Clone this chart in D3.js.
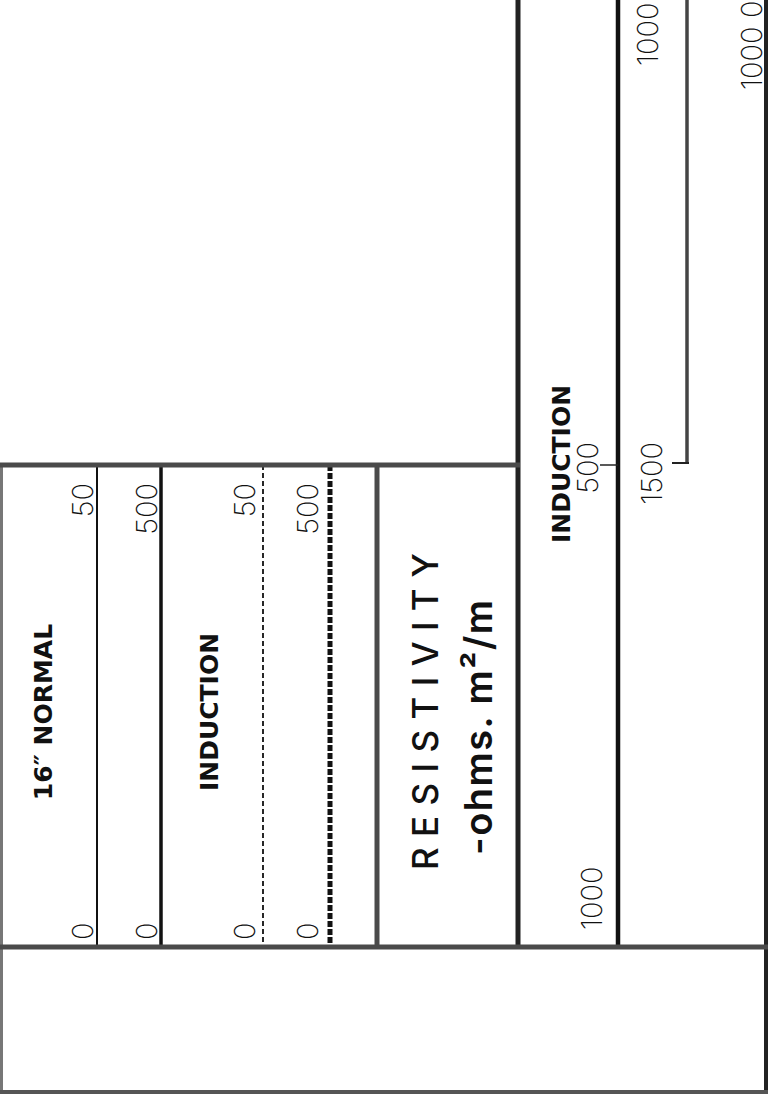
<!DOCTYPE html>
<html>
<head>
<meta charset="utf-8">
<script src="https://cdn.jsdelivr.net/npm/d3@7"></script>
<style>
  body { margin: 0; background: #fff; }
  .digit { font-family: "Inter", "DejaVu Sans", sans-serif; font-weight: 200; font-size: 29px; fill: #111; }
  .curve { font-family: "DejaVu Sans", sans-serif; font-weight: bold; font-size: 25px; fill: #111; }
</style>
</head>
<body>
<div id="log-header"></div>
<script>
// Log heading data
const curveNames = ["16″ NORMAL", "INDUCTION"];
const shallowLeft = ["0", "0", "0", "0"];
const shallowRight = ["50", "500", "50", "500"];
const deepCurve = "INDUCTION";
const deepLeft = ["1000", "1000", "0"];
const deepRight = ["500", "1500"];
const unitTitle = "RESISTIVITY";
const unitText = "-ohms. m²/m";

const W = 771, H = 1094;

// layout of the heading (pixels)
const yTop = 465, yMid = 947, yBottom = 1092;
const shallowLines = [97, 161, 263, 330];             // curve scale lines in the left track
const lineStyle = [
  { w: 2,   dash: null },
  { w: 3.5, dash: null },
  { w: 1.8, dash: "5,3" },
  { w: 5,   dash: "6,2" }
];

const svg = d3.select("#log-header")
  .append("svg")
  .attr("width", W)
  .attr("height", H);

const y = d3.scaleLinear().domain([0, H]).range([0, H]);

// rotated text helper (reads bottom to top)
function rtext(x, yy, str, anchor, cls) {
  return svg.append("text")
    .attr("class", cls)
    .attr("transform", "translate(" + x + "," + y(yy) + ") rotate(-90)")
    .attr("text-anchor", anchor)
    .text(str);
}

function rule(x1, y1, x2, y2, w, color, dash) {
  const l = svg.append("line")
    .attr("x1", x1).attr("y1", y(y1))
    .attr("x2", x2).attr("y2", y(y2))
    .attr("stroke", color)
    .attr("stroke-width", w);
  if (dash) l.attr("stroke-dasharray", dash);
  return l;
}

// curve scale lines, left track
shallowLines.forEach((x, i) => {
  rule(x, yTop, x, yMid, lineStyle[i].w, "#111", lineStyle[i].dash);
});

// track borders
rule(377, yTop, 377, yMid, 5, "#4a4a4a");
rule(518, 0, 518, yMid, 5, "#222");
rule(618, 0, 618, yMid, 4.5, "#111");
rule(687, 0, 687, yTop - 2, 3.5, "#444");
rule(672, yTop - 2, 689, yTop - 2, 2, "#222");
rule(600, yTop, 618, yTop, 1.5, "#222");
rule(766, 0, 766, yBottom, 4, "#222");
rule(1.5, yTop, 1.5, yBottom, 3, "#777");

// horizontal rules
rule(0, yTop, 520, yTop, 5, "#4a4a4a");
rule(0, yMid, 768, yMid, 5, "#4a4a4a");
rule(0, yBottom, 768, yBottom, 4, "#555");

// curve names
rtext(52, 712, curveNames[0], "middle", "curve");
rtext(218, 712, curveNames[1], "middle", "curve");
rtext(570, 464, deepCurve, "middle", "curve");

// scale values, left track
const leftBase = [93, 157, 255, 318];
shallowLeft.forEach((v, i) => rtext(leftBase[i], 940, v, "start", "digit"));
shallowRight.forEach((v, i) => rtext(leftBase[i], 483, v, "end", "digit"));

// scale values, deep track
rtext(602, 930, deepLeft[0], "start", "digit");
rtext(598, 442, deepRight[0], "end", "digit");
rtext(662, 442, deepRight[1], "end", "digit");
rtext(658, 66, deepLeft[1], "start", "digit");
rtext(762, 90, deepLeft[1], "start", "digit");
rtext(762, 18, deepLeft[2], "start", "digit");

// unit block
rtext(438, 870, unitTitle, "start", "")
  .attr("textLength", 317)
  .attr("lengthAdjust", "spacing")
  .style("font-family", "Inter, sans-serif")
  .style("font-weight", 500)
  .style("font-size", "35px")
  .style("fill", "#111");

rtext(492, 855, unitText, "start", "")
  .attr("textLength", 255)
  .attr("lengthAdjust", "spacing")
  .style("font-family", "Inter, sans-serif")
  .style("font-weight", 600)
  .style("font-size", "38px")
  .style("fill", "#111");
</script>
</body>
</html>
